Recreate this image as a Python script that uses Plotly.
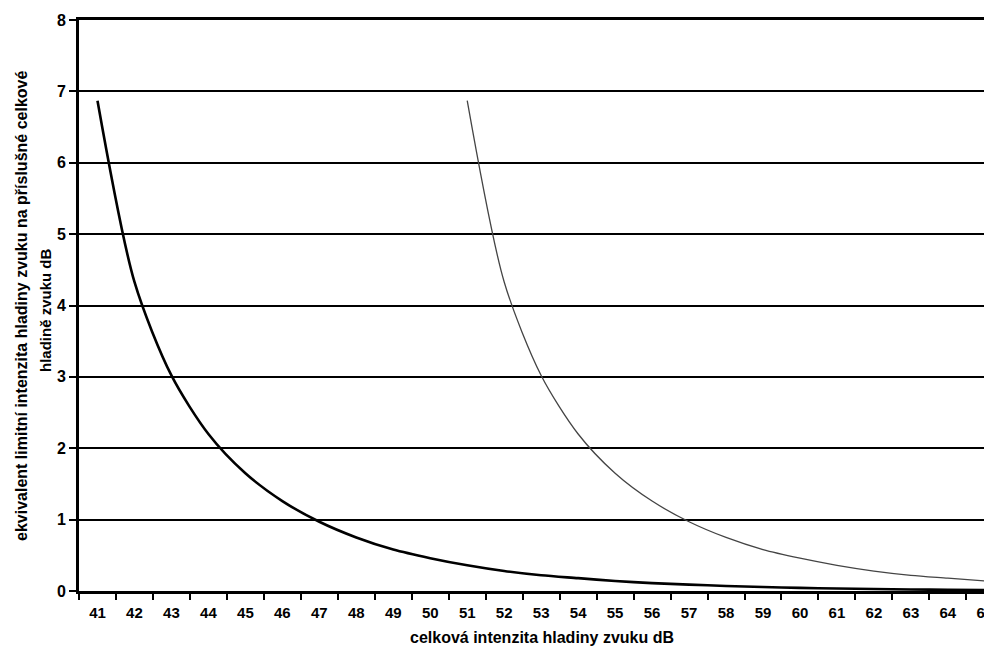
import plotly.graph_objects as go

# Data
x_labels = list(range(41, 66))
curve1_x = [41, 42, 43, 44, 45, 46, 47, 48, 49, 50, 51, 52, 53, 54, 55, 56, 57, 58, 59, 60, 61, 62, 63, 64, 65]
curve1_y = [6.87, 4.33, 3.02, 2.20, 1.65, 1.26, 0.97, 0.75, 0.58, 0.46, 0.36, 0.28, 0.22, 0.18, 0.14, 0.11,
            0.09, 0.07, 0.055, 0.044, 0.035, 0.027, 0.022, 0.017, 0.014]
curve2_x = [51, 52, 53, 54, 55, 56, 57, 58, 59, 60, 61, 62, 63, 64, 65]
curve2_y = [6.87, 4.33, 3.02, 2.20, 1.65, 1.26, 0.97, 0.75, 0.58, 0.46, 0.36, 0.28, 0.22, 0.18, 0.14]
y_ticks = [0, 1, 2, 3, 4, 5, 6, 7, 8]

x_title = "celková intenzita hladiny zvuku dB"
y_title_1 = "ekvivalent limitní intenzita hladiny zvuku na příslušné celkové"
y_title_2 = "hladině zvuku dB"

FONT = "Liberation Sans, Arial, sans-serif"

fig = go.Figure()
fig.add_trace(go.Scatter(x=curve2_x, y=curve2_y, mode="lines",
                         line=dict(color="#444444", width=1.3, shape="spline", smoothing=0.8),
                         showlegend=False, hoverinfo="skip"))
fig.add_trace(go.Scatter(x=curve1_x, y=curve1_y, mode="lines",
                         line=dict(color="#000000", width=2.6, shape="spline", smoothing=0.8),
                         showlegend=False, hoverinfo="skip"))

minor_vals = [v - 0.5 for v in x_labels] + [x_labels[-1] + 0.5]

# The page body adds an 8px offset; layout below is in figure pixels (screen - 8)
OFF = 8
W, H = 992, 647
L, R, T, B = 79 - OFF, 0, 20 - OFF, H - (591 - OFF)
pw = W - L - R
ph = H - T - B

fig.update_xaxes(
    range=[40.5, 65.41], automargin=False,
    tickmode="array", tickvals=x_labels, ticktext=[str(v) for v in x_labels],
    ticks="", ticklabelstandoff=6, ticklabeloverflow="allow",
    minor=dict(tickmode="array", tickvals=minor_vals, ticks="outside", ticklen=6,
               tickwidth=2, tickcolor="black", showgrid=False),
    showgrid=False, zeroline=False,
    showline=True, linecolor="black", linewidth=3, mirror=True,
    tickfont=dict(family=FONT, size=15, color="black", weight="bold"),
)
fig.update_yaxes(
    range=[0, 8], automargin=False,
    tickmode="array", tickvals=y_ticks,
    ticks="outside", ticklen=7, tickwidth=2, tickcolor="black",
    showgrid=True, gridcolor="black", gridwidth=2,
    zeroline=False,
    showline=True, linecolor="black", linewidth=3,
    tickfont=dict(family=FONT, size=16, color="black", weight="bold"),
)


def px_to_paper_x(px):
    return (px - OFF - L) / pw


def px_to_paper_y(py):
    return (H - B - (py - OFF)) / ph


fig.add_annotation(text=f"<b>{x_title}</b>", xref="paper", yref="paper",
                   x=px_to_paper_x(542), y=px_to_paper_y(637), xanchor="center", yanchor="middle",
                   showarrow=False, font=dict(family=FONT, size=16, color="black"))
fig.add_annotation(text=f"<b>{y_title_1}</b>", xref="paper", yref="paper",
                   x=px_to_paper_x(21), y=px_to_paper_y(306), xanchor="center", yanchor="middle",
                   textangle=-90, showarrow=False, font=dict(family=FONT, size=16, color="black"))
fig.add_annotation(text=f"<b>{y_title_2}</b>", xref="paper", yref="paper",
                   x=px_to_paper_x(45), y=px_to_paper_y(310), xanchor="center", yanchor="middle",
                   textangle=-90, showarrow=False, font=dict(family=FONT, size=15, color="black"))

fig.update_layout(
    width=W, height=H,
    margin=dict(l=L, r=R, t=T, b=B, pad=0, autoexpand=False),
    paper_bgcolor="white", plot_bgcolor="white",
    showlegend=False,
)

fig.write_html("out.html")
